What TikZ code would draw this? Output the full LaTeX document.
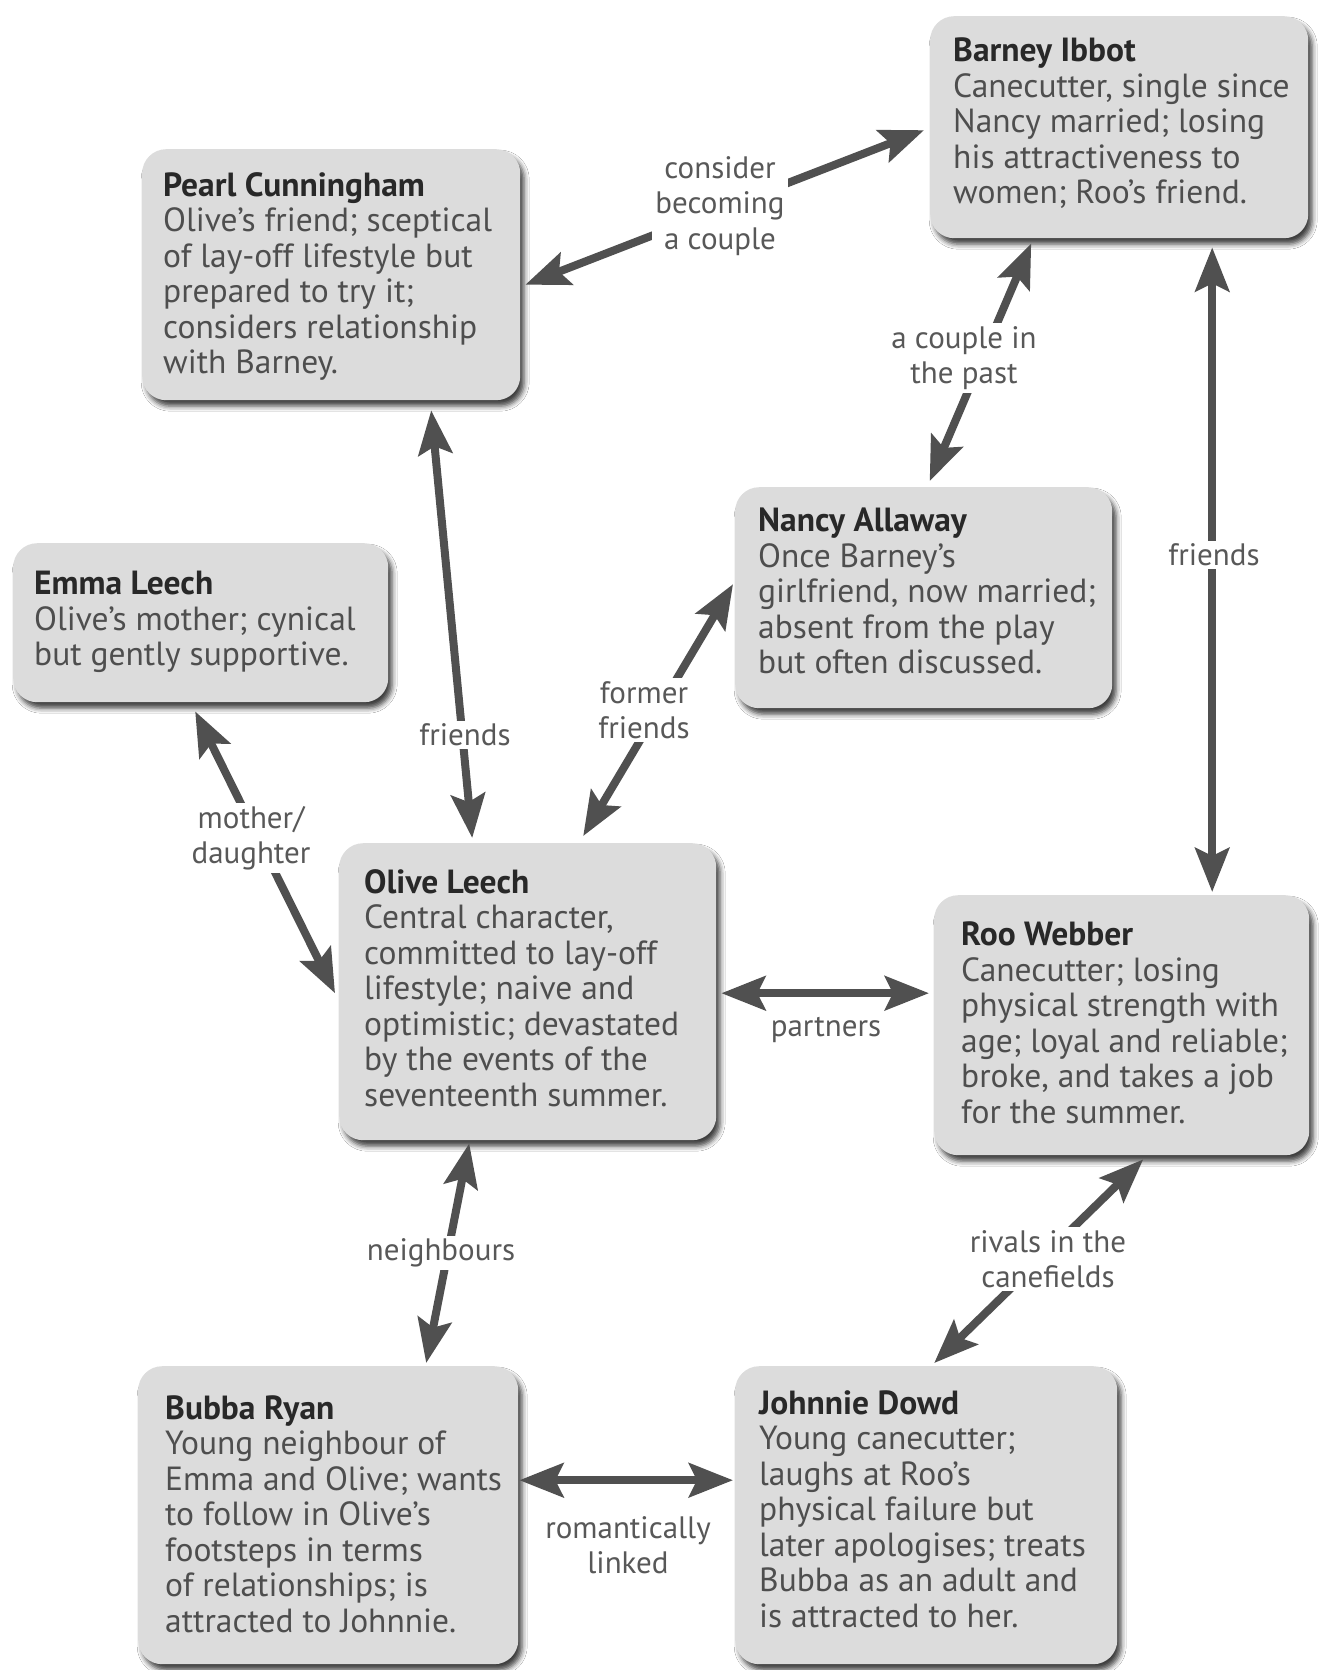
\documentclass[tikz,border=0pt]{standalone}
\usepackage{fontspec}
\setmainfont{PT Sans}
\usetikzlibrary{arrows.meta,shadows.blur,calc}
\definecolor{boxfill}{RGB}{220,220,220}
\definecolor{titlecol}{RGB}{40,40,40}
\definecolor{bodycol}{RGB}{78,78,78}
\definecolor{arrcol}{RGB}{80,80,80}
\definecolor{lblcol}{RGB}{88,88,88}
\begin{document}
\begin{tikzpicture}[x=1pt,y=-1pt,
 charbox/.style={draw=none, fill=boxfill, rounded corners=24pt, anchor=north west, inner sep=0pt,
   blur shadow={shadow xshift=4pt, shadow yshift=-6pt, shadow blur radius=5pt, shadow opacity=75}},
 chartext/.style={anchor=north west, inner sep=0pt, align=left, font=\fontsize{33.5}{35.5}\selectfont, text=bodycol},
 rel/.style={draw=arrcol, line width=8pt, {Stealth[length=44pt,width=34pt,inset=8pt]}-{Stealth[length=44pt,width=34pt,inset=8pt]}},
 lbl/.style={fill=white, inner sep=3pt, align=center, font=\fontsize{31}{35.5}\selectfont, text=lblcol}]
\useasboundingbox[fill=white] (0,0) rectangle (1327,1670);

% boxes
\node[charbox, minimum width=378pt, minimum height=222pt] (barney) at (930,16) {};
\node[charbox, minimum width=378pt, minimum height=251pt] (pearl) at (142,149) {};
\node[charbox, minimum width=375pt, minimum height=159pt] (emma) at (13,543) {};
\node[charbox, minimum width=377pt, minimum height=221pt] (nancy) at (735,487) {};
\node[charbox, minimum width=377pt, minimum height=297pt] (olive) at (339,843) {};
\node[charbox, minimum width=375pt, minimum height=260pt] (roo) at (934,895) {};
\node[charbox, minimum width=380pt, minimum height=298pt] (bubba) at (138,1366) {};
\node[charbox, minimum width=382pt, minimum height=298pt] (johnnie) at (735,1366) {};

% texts
\node[chartext] (barneyt) at (953,38) {\textbf{\color{titlecol}Barney Ibbot}\\Canecutter, single since\\Nancy married; losing\\his attractiveness to\\women; Roo’s friend.};
\node[chartext] (pearlt) at (163,172) {\textbf{\color{titlecol}Pearl Cunningham}\\Olive’s friend; sceptical\\of lay-off lifestyle but\\prepared to try it;\\considers relationship\\with Barney.};
\node[chartext] (emmat) at (34,571) {\textbf{\color{titlecol}Emma Leech}\\Olive’s mother; cynical\\but gently supportive.};
\node[chartext] (nancyt) at (758,508) {\textbf{\color{titlecol}Nancy Allaway}\\Once Barney’s\\girlfriend, now married;\\absent from the play\\but often discussed.};
\node[chartext] (olivet) at (364,869) {\textbf{\color{titlecol}Olive Leech}\\Central character,\\committed to lay-off\\lifestyle; naive and\\optimistic; devastated\\by the events of the\\seventeenth summer.};
\node[chartext] (root) at (961,922) {\textbf{\color{titlecol}Roo Webber}\\Canecutter; losing\\physical strength with\\age; loyal and reliable;\\broke, and takes a job\\for the summer.};
\node[chartext] (bubbat) at (165,1395) {\textbf{\color{titlecol}Bubba Ryan}\\Young neighbour of\\Emma and Olive; wants\\to follow in Olive’s\\footsteps in terms\\of relationships; is\\attracted to Johnnie.};
\node[chartext] (johnniet) at (759,1390) {\textbf{\color{titlecol}Johnnie Dowd}\\Young canecutter;\\laughs at Roo’s\\physical failure but\\later apologises; treats\\Bubba as an adult and\\is attracted to her.};

% connectors
\draw[rel] ([xshift=5pt,yshift=-10pt]pearl.east) -- ([xshift=-6pt,yshift=-3pt]barney.west);
\draw[rel] ([xshift=-88pt,yshift=-5pt]barney.south) -- ([xshift=6pt,yshift=6pt]nancy.north);
\draw[rel] ([xshift=93pt,yshift=-9pt]barney.south) -- ([xshift=90.5pt,yshift=3pt]roo.north);
\draw[rel] ([xshift=100pt,yshift=-10pt]pearl.south) -- ([xshift=-55.5pt,yshift=5pt]olive.north);
\draw[rel] ([xshift=-2pt,yshift=13.5pt]nancy.west) -- ([xshift=55.5pt,yshift=7pt]olive.north);
\draw[rel] ([xshift=-5.5pt,yshift=-9pt]emma.south) -- ([xshift=-4pt,yshift=-1.5pt]olive.west);
\draw[rel] ([xshift=5pt,yshift=-1.5pt]olive.east) -- ([xshift=-5pt,yshift=32pt]roo.west);
\draw[rel] ([xshift=-58.5pt,yshift=-3pt]olive.south) -- ([xshift=98pt,yshift=3pt]bubba.north);
\draw[rel] ([xshift=21.5pt,yshift=-4pt]roo.south) -- ([xshift=8pt,yshift=3pt]johnnie.north);
\draw[rel] ([xshift=1pt,yshift=35pt]bubba.east) -- ([xshift=-2pt,yshift=35pt]johnnie.west);

% labels
\node[lbl] (l1) at (720,206) {consider\\becoming\\a couple};
\node[lbl] (l2) at (964,358) {a couple in\\the past};
\node[lbl] (l3) at (1214,555) {friends};
\node[lbl] (l4) at (465,735) {friends};
\node[lbl] (l5) at (644,710) {former\\friends};
\node[lbl] (l6) at (251,838) {mother/\\daughter};
\node[lbl] (l7) at (826,1030) {partners};
\node[lbl] (l8) at (441,1253) {neighbours};
\node[lbl] (l9) at (1048,1259) {rivals in the\\canefields};
\node[lbl] (l10) at (628,1545) {romantically\\linked};
\end{tikzpicture}
\end{document}
